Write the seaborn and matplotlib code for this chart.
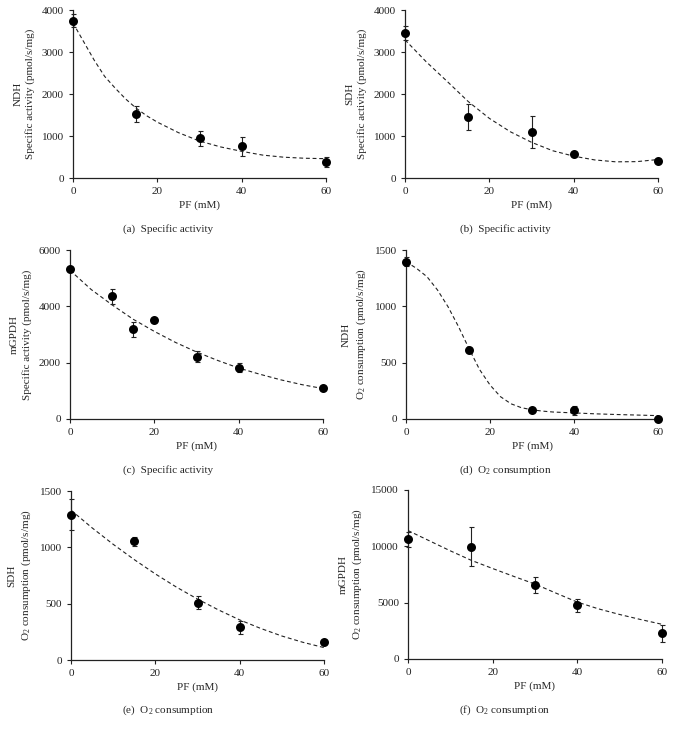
import matplotlib
matplotlib.use("Agg")
import matplotlib.pyplot as plt
import seaborn as sns
import pandas as pd

sns.set_style("ticks")
plt.rcParams['font.family'] = ['Liberation Serif', 'DejaVu Serif']
plt.rcParams['mathtext.fontset'] = 'custom'
plt.rcParams['mathtext.rm'] = 'Liberation Serif'
plt.rcParams['mathtext.it'] = 'Liberation Serif:italic'
plt.rcParams['font.size'] = 8

# ---------------- data ----------------
pf_a = [0, 15, 30, 40, 60]
ndh_act = [3746, 1524, 944, 754, 373]
ndh_act_err = [150, 180, 180, 230, 120]
fit_x_a = [0, 2.5, 5, 7.5, 10, 12.5, 15, 17.5, 20, 25, 30, 35, 40, 45, 50, 55, 60]
ndh_act_fit = [3690, 3250, 2810, 2420, 2140, 1880, 1660, 1480, 1330, 1080, 880, 740, 635, 545, 495, 470, 460]

fit_x = [0, 5, 10, 15, 20, 25, 30, 35, 40, 45, 50, 55, 60]

pf_b = [0, 15, 30, 40, 60]
sdh_act = [3452, 1452, 1095, 579, 413]
sdh_act_err = [175, 320, 370, 40, 40]
sdh_act_fit = [3290, 2770, 2300, 1820, 1420, 1100, 850, 650, 520, 430, 385, 390, 440]

pf_c = [0, 10, 15, 20, 30, 40, 60]
mgpdh_act = [5312, 4352, 3190, 3498, 2217, 1826, 1091]
mgpdh_act_err = [80, 260, 265, 60, 210, 160, 60]
mgpdh_act_fit = [5280, 4600, 4050, 3540, 3110, 2720, 2380, 2080, 1810, 1590, 1390, 1220, 1080]

pf_d = [0, 15, 30, 40, 60]
ndh_o2 = [1396, 609, 83, 77, 3]
ndh_o2_err = [40, 25, 15, 40, 10]
fit_x_d = [0, 2.5, 5, 7.5, 10, 12.5, 15, 17.5, 20, 22.5, 25, 27.5, 30, 32.5, 35, 40, 45, 50, 55, 60]
ndh_o2_fit = [1396, 1337, 1263, 1145, 997, 820, 625, 440, 302, 198, 135, 100, 82, 70, 62, 54, 46, 40, 35, 30]

pf_e = [0, 15, 30, 40, 60]
sdh_o2 = [1290, 1053, 509, 290, 160]
sdh_o2_err = [140, 40, 60, 58, 15]
sdh_o2_fit = [1330, 1173, 1027, 891, 764, 647, 541, 444, 356, 280, 213, 157, 110]

pf_f = [0, 15, 30, 40, 60]
mgpdh_o2 = [10621, 9970, 6568, 4763, 2278]
mgpdh_o2_err = [650, 1750, 700, 600, 730]
mgpdh_o2_fit = [11400, 10500, 9600, 8750, 8030, 7330, 6650, 5840, 5050, 4450, 3950, 3500, 3080]

panels = [
    dict(x=pf_a, y=ndh_act, e=ndh_act_err, fx=fit_x_a, fy=ndh_act_fit, ymax=4000, yt=[0, 1000, 2000, 3000, 4000],
         yl="NDH\nSpecific activity (pmol/s/mg)", cap="(a)  Specific activity", box=(73, 326, 10, 178)),
    dict(x=pf_b, y=sdh_act, e=sdh_act_err, fx=fit_x, fy=sdh_act_fit, ymax=4000, yt=[0, 1000, 2000, 3000, 4000],
         yl="SDH\nSpecific activity (pmol/s/mg)", cap="(b)  Specific activity", box=(405, 658, 10, 178)),
    dict(x=pf_c, y=mgpdh_act, e=mgpdh_act_err, fx=fit_x, fy=mgpdh_act_fit, ymax=6000, yt=[0, 2000, 4000, 6000],
         yl="mGPDH\nSpecific activity (pmol/s/mg)", cap="(c)  Specific activity", box=(70, 323, 250, 419)),
    dict(x=pf_d, y=ndh_o2, e=ndh_o2_err, fx=fit_x_d, fy=ndh_o2_fit, ymax=1500, yt=[0, 500, 1000, 1500],
         yl="NDH\nO$_2$ consumption (pmol/s/mg)", cap="(d)  O$_2$ consumption", box=(406, 658, 250, 419)),
    dict(x=pf_e, y=sdh_o2, e=sdh_o2_err, fx=fit_x, fy=sdh_o2_fit, ymax=1500, yt=[0, 500, 1000, 1500],
         yl="SDH\nO$_2$ consumption (pmol/s/mg)", cap="(e)  O$_2$ consumption", box=(71, 324, 491, 660)),
    dict(x=pf_f, y=mgpdh_o2, e=mgpdh_o2_err, fx=fit_x, fy=mgpdh_o2_fit, ymax=15000, yt=[0, 5000, 10000, 15000],
         yl="mGPDH\nO$_2$ consumption (pmol/s/mg)", cap="(f)  O$_2$ consumption", box=(408, 662, 490, 659)),
]

W, H = 673, 732
fig = plt.figure(figsize=(W / 100, H / 100), dpi=100)
cap_y = [229, 229, 470, 470, 710, 710]
col_center = [168, 505]

for i, p in enumerate(panels):
    l, r, t, b = p["box"]
    ax = fig.add_axes([l / W, (H - b) / H, (r - l) / W, (b - t) / H])
    df_fit = pd.DataFrame({"PF": p["fx"], "val": p["fy"]})
    sns.lineplot(data=df_fit, x="PF", y="val", ax=ax, color="#222222", linewidth=0.8,
                 linestyle=(0, (3.5, 2.5)), zorder=2)
    ax.errorbar(p["x"], p["y"], yerr=p["e"], fmt="none", ecolor="#222222", elinewidth=0.8,
                capsize=1.8, capthick=0.8, zorder=3, clip_on=False)
    df_pts = pd.DataFrame({"PF": p["x"], "val": p["y"]})
    sns.scatterplot(data=df_pts, x="PF", y="val", ax=ax, color="black", s=42, edgecolor="black",
                    linewidth=0, zorder=4, clip_on=False)
    ax.set_xlim(0, 60)
    ax.set_ylim(0, p["ymax"])
    ax.set_xticks([0, 20, 40, 60])
    ax.set_yticks(p["yt"])
    for s in ["top", "right"]:
        ax.spines[s].set_visible(False)
    for s in ["left", "bottom"]:
        ax.spines[s].set_linewidth(0.9)
        ax.spines[s].set_color("#222222")
    ax.tick_params(direction="out", length=3, width=0.8, colors="#222222", labelsize=8, pad=3.5)
    ax.set_xlabel("PF (mM)", fontsize=8, labelpad=3)
    ax.set_ylabel(p["yl"], fontsize=8, labelpad=5, linespacing=1.35)
    fig.text(col_center[i % 2] / W, (H - cap_y[i]) / H, p["cap"], ha="center", va="center", fontsize=8)

fig.savefig("out.png", dpi=100)
